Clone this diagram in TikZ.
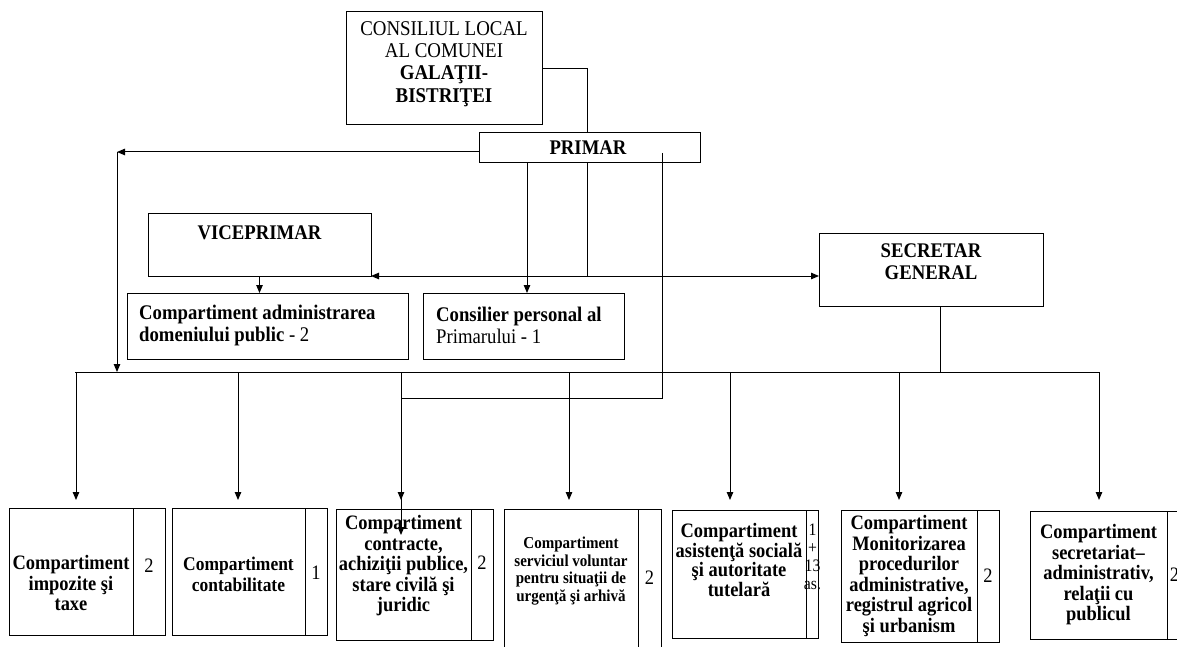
\documentclass[tikz,border=0pt]{standalone}
\usepackage{fontspec}
\setmainfont{Liberation Serif}[FakeStretch=0.9]
\usetikzlibrary{arrows.meta}
\begin{document}
\begin{tikzpicture}[x=1pt,y=-1pt,
  box/.style={draw,line width=1pt,inner sep=0pt,outer sep=0pt,anchor=north west},
  bt/.style={align=center,inner sep=0pt,font=\fontsize{20.5}{20.5}\selectfont\bfseries},
  nt/.style={align=center,inner sep=0pt,font=\fontsize{20.5}{20.5}\selectfont},
  tt/.style={inner sep=0pt,font=\fontsize{20.8}{22}\selectfont\bfseries},
  ln/.style={line width=1pt},
  arr/.style={line width=1pt,-{Triangle[length=8pt,width=6.5pt]}},
  darr/.style={line width=1pt,{Triangle[length=8pt,width=6.5pt]}-{Triangle[length=8pt,width=6.5pt]}}]
\useasboundingbox (0,0) rectangle (1177,647);
\clip (0,0) rectangle (1177,647);

% ---- upper boxes
\node[box,minimum width=196pt,minimum height=113pt] (cons) at (346,12) {};
\node[tt,align=center,font=\fontsize{21}{22.3}\selectfont] (const) at (444,64)
  {CONSILIUL LOCAL\\AL COMUNEI\\\textbf{GALAŢII-}\\\textbf{BISTRIŢEI}};
\node[box,minimum width=221pt,minimum height=30pt] (primar) at (479,133) {};
\node[tt] (primart) at (588,148) {PRIMAR};
\node[box,minimum width=223pt,minimum height=63pt] (vice) at (148,213) {};
\node[tt] (vicet) at (259.5,233) {VICEPRIMAR};
\node[box,minimum width=224pt,minimum height=73pt] (secr) at (819,233) {};
\node[tt,align=center] (secrt) at (931,262) {SECRETAR\\GENERAL};
\node[box,minimum width=281pt,minimum height=66pt] (admin) at (127,293) {};
\node[tt,align=left,anchor=west] (admint) at (139,325)
  {Compartiment administrarea\\domeniului public \textmd{- 2}};
\node[box,minimum width=201pt,minimum height=66pt] (consil) at (423,293) {};
\node[tt,align=left,anchor=west] (consilt) at (436,325)
  {Consilier personal al\\\textmd{Primarului - 1}};

% ---- lower boxes
\node[box,minimum width=124pt,minimum height=127pt] (b1) at (9,508) {};
\node[box,minimum width=32pt,minimum height=127pt] (b1n) at (133,508) {};
\node[bt] (b1t) at (71,583) {Compartiment\\impozite şi\\taxe};
\node[nt] (b1v) at (149,566) {2};

\node[box,minimum width=133pt,minimum height=127pt] (b2) at (172,508) {};
\node[box,minimum width=22pt,minimum height=127pt] (b2n) at (305,508) {};
\node[bt,font=\fontsize{19.4}{21}\selectfont\bfseries] (b2t) at (238.5,574) {Compartiment\\contabilitate};
\node[nt] (b2v) at (316,573) {1};

\node[box,minimum width=135pt,minimum height=131pt] (b3) at (336,509) {};
\node[box,minimum width=22pt,minimum height=131pt] (b3n) at (471,509) {};
\node[bt] (b3t) at (403.5,566) {Compartiment\\contracte,\\achiziţii publice,\\stare civilă şi\\juridic};
\node[nt] (b3v) at (482,563) {2};

\node[box,minimum width=134pt,minimum height=161pt] (b4) at (504,509) {};
\node[box,minimum width=23pt,minimum height=161pt] (b4n) at (638,509) {};
\node[bt,font=\fontsize{16.7}{17.8}\selectfont\bfseries] (b4t) at (571,571) {Compartiment\\serviciul voluntar\\pentru situaţii de\\urgenţă şi arhivă};
\node[nt] (b4v) at (649.5,578) {2};

\node[box,minimum width=134pt,minimum height=128pt] (b5) at (672,510) {};
\node[box,minimum width=12pt,minimum height=128pt] (b5n) at (806,510) {};
\node[bt,font=\fontsize{20.5}{18.6}\selectfont\bfseries] (b5t) at (739,560) {Compartiment\\asistenţă socială\\şi autoritate\\tutelară};
\node[nt,font=\fontsize{17.5}{18}\selectfont] (b5v) at (812.5,557) {1\\+\\13\\as.};

\node[box,minimum width=136pt,minimum height=132pt] (b6) at (841,510) {};
\node[box,minimum width=22pt,minimum height=132pt] (b6n) at (977,510) {};
\node[bt] (b6t) at (909,576) {Compartiment\\Monitorizarea\\procedurilor\\administrative,\\registrul agricol\\şi urbanism};
\node[nt] (b6v) at (988,576) {2};

\node[box,minimum width=137pt,minimum height=128pt] (b7) at (1030,511) {};
\node[box,minimum width=30pt,minimum height=128pt] (b7n) at (1167,511) {};
\node[bt] (b7t) at (1098.5,575) {Compartiment\\secretariat–\\administrativ,\\relaţii cu\\publicul};
\node[nt] (b7v) at (1174.5,575) {2};

% ---- connectors
\coordinate (pv) at (587,133);
\draw[ln] (cons.east) -| (pv);

\coordinate (lc) at (117,152);
\coordinate (d0) at (75,372);
\coordinate (d1) at (1099,372);
\draw[arr] (primar.west |- lc) -- (lc);
\draw[ln] (d0) -- (d1);
\draw[arr] (lc) -- (lc |- d0);

\coordinate (cx) at (527,0);
\draw[arr] (primar.south -| cx) -- (consil.north -| cx);
\draw[arr] (vice.south) -- (admin.north -| vice.south);

\coordinate (mx) at (587,276);
\draw[ln] (primar.south -| mx) -- (mx);
\draw[darr] (vice.south east) -- (vice.south east -| secr.west);

\coordinate (lp) at (662,153);
\coordinate (lq) at (401,398);
\coordinate (lr) at (401,535);
\draw[arr] (lp) |- (lq) -- (lr);

\coordinate (sx) at (940,0);
\draw[ln] (secr.south -| sx) -- (d0 -| sx);

\foreach \n/\x in {1/76,2/238,3/401,4/569,5/730,6/899,7/1099}{
  \coordinate (t\n) at (\x,500);
  \draw[arr] (t\n |- d0) -- (t\n);
}
\end{tikzpicture}
\end{document}
